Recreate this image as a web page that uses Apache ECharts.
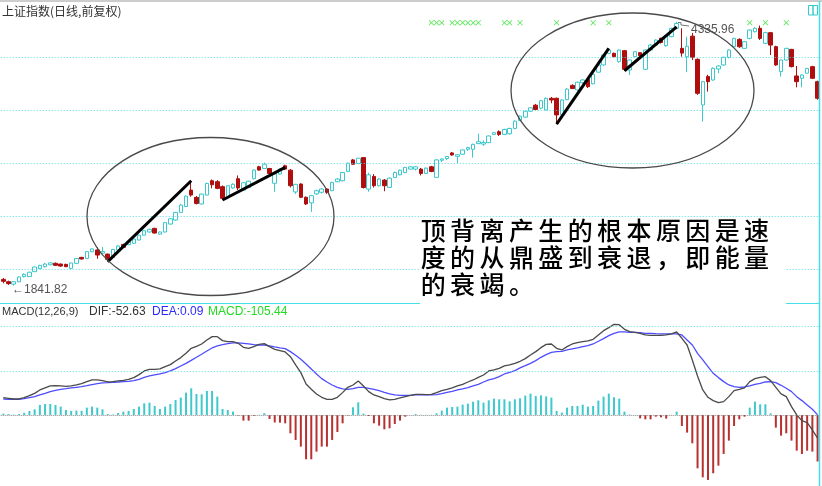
<!DOCTYPE html>
<html><head><meta charset="utf-8">
<script src="https://cdn.jsdelivr.net/npm/echarts@6/dist/echarts.min.js"></script>
<style>html,body{margin:0;padding:0;background:#fff}#c{width:822px;height:486px}</style>
</head><body><div id="c"></div>
<script>
// ---- data (Shanghai Composite, daily) ----
const opens = [1902,1880,1858,1880,1928,1928,1975,2003,2022,2040,
2054,2047,2044,2006,2054,2110,2100,2163,2180,2150,
2141,2110,2180,2232,2230,2243,2274,2320,2350,2384,
2330,2350,2425,2463,2535,2590,2746,2677,2615,2699,
2834,2825,2778,2683,2766,2853,2746,2770,2853,2966,
2950,2950,2810,2897,2975,2934,2728,2803,2678,2625,
2710,2725,2756,2740,2825,2834,2922,3031,2997,3053,
2755,2875,2787,2840,2771,2865,2890,2912,2944,2944,
2944,2903,2966,2866,3028,3044,3097,3065,3085,3131,
3131,3185,3180,3194,3272,3297,3272,3278,3328,3404,
3435,3491,3548,3520,3503,3613,3613,3456,3600,3735,
3692,3760,3792,3750,3860,3928,4038,4038,3959,4063,
3880,4006,4044,3887,4069,4116,4180,4110,4195,4274,
4085,4006,4200,3981,3550,3818,3786,3890,3928,4000,
4100,4170,4085,4179,4242,4274,4132,4233,4101,3865,
3975,4075,3824,3802,3850,3912,3770];
const closes = [1884,1862,1880,1925,1950,1970,2019,2035,2047,2058,
2035,2028,2022,2057,2100,2095,2164,2190,2132,2165,
2092,2185,2218,2205,2262,2283,2320,2362,2375,2340,
2350,2438,2475,2535,2604,2689,2699,2620,2708,2809,
2796,2762,2668,2787,2801,2766,2815,2830,2935,2935,
2991,2903,2900,2944,2944,2787,2800,2678,2615,2693,
2740,2756,2725,2818,2850,2912,3000,2990,3047,2770,
2890,2787,2850,2787,2859,2912,2934,2960,2965,2966,
2903,2953,2922,3031,3040,3063,3078,3080,3125,3147,
3178,3203,3195,3257,3288,3272,3319,3328,3397,3444,
3491,3523,3507,3590,3613,3597,3456,3597,3700,3705,
3765,3786,3723,3840,3928,4022,4069,4006,4069,3887,
3975,4053,4016,4069,4116,4163,4140,4201,4274,4320,
4040,4105,4000,3660,3770,3770,3896,3918,4000,4069,
4179,4100,4148,4258,4274,4179,4233,4116,3928,3975,
4085,3912,3770,3833,3896,3802,3613];
const lows = [1865,1850,1841.82,1875,1920,1925,1972,2000,2015,2035,
2030,2020,2018,2003,2050,2090,2098,2160,2097,2132,
2070,2105,2175,2200,2225,2240,2270,2316,2345,2335,
2325,2345,2420,2455,2530,2585,2683,2610,2610,2695,
2762,2755,2652,2660,2760,2746,2740,2765,2848,2930,
2945,2895,2730,2890,2935,2771,2710,2670,2605,2540,
2700,2715,2710,2735,2820,2830,2915,2985,2990,2760,
2730,2770,2780,2735,2765,2860,2885,2905,2940,2930,
2885,2898,2915,2860,3010,3030,3070,3000,3080,3115,
3053,3180,3163,3190,3265,3257,3265,3270,3320,3400,
3430,3485,3500,3510,3500,3566,3369,3440,3595,3700,
3685,3750,3710,3745,3855,3920,4030,4000,3950,3871,
3833,4000,4010,3880,4060,4110,4130,4100,4190,4265,
4006,3860,3975,3645,3393,3676,3780,3850,3920,3990,
4090,4090,4080,4170,4235,4164,4125,4022,3920,3818,
3970,3905,3717,3717,3845,3795,3600];
const highs = [1915,1890,1885,1930,1960,1975,2022,2040,2058,2063,
2062,2052,2050,2060,2105,2115,2168,2195,2205,2210,
2145,2190,2225,2240,2268,2290,2325,2366,2380,2390,
2355,2445,2480,2540,2615,2695,2834,2690,2712,2815,
2846,2840,2790,2790,2810,2884,2820,2835,2940,2975,
3005,2955,2912,2950,2985,2944,2805,2810,2685,2700,
2750,2765,2762,2825,2860,2915,3005,3040,3050,3055,
2910,2897,2860,2850,2865,2920,2940,2965,2972,2972,
2955,2960,2975,3040,3045,3068,3105,3085,3130,3155,
3185,3278,3215,3262,3295,3310,3325,3335,3405,3450,
3495,3528,3560,3597,3620,3625,3620,3605,3710,3745,
3770,3795,3800,3850,3935,4030,4085,4045,4075,4070,
3980,4060,4050,4075,4125,4170,4185,4210,4280,4335.96,
4274,4195,4230,3990,3775,3835,3905,3925,4005,4075,
4185,4180,4155,4262,4285,4300,4240,4240,4110,3980,
4090,4080,3918,3840,3900,3920,3780];
const difValues = [39.3,37.8,36.2,36.2,39.3,43.8,49,56.6,61.2,65.7,
66.4,65.7,64.9,65.7,68,71,75.5,79.3,79.3,77.8,
74.7,75.5,77,78.5,80.8,84.6,91.4,99.7,103.4,103.4,
104.2,109.5,114,122.3,129.9,139.7,151,155.5,160.8,169.9,
177.4,177.4,168.4,166.1,166.1,162.3,153.3,151,154.8,160,
161.6,154.8,148.7,145.7,142.7,132.1,113.3,95.9,70.2,58.1,
47.6,40,35.5,35.5,40,50.6,62.7,67.9,77,65.7,
52.9,45.3,41.5,37,34,35.5,38.5,41.5,44.5,46.8,
46.8,46,46.8,50.6,55.1,58.1,61.2,65.7,69.5,74.7,
79.3,85.3,90.6,99.7,101.9,105.7,111,113.3,117,121.6,
127.6,135.9,143.5,152.5,160,160.8,151,147.2,154.8,160.8,
163.8,166.1,167.6,171.4,181.2,191,197.8,205.4,204.6,194,
188.8,187.2,185,181.2,180.4,180.4,180.4,181.2,183.5,188,
173.7,158.5,124.6,88.3,56.6,40,32.5,27.9,30.2,41.5,
55.1,58.1,61.2,75.5,82.3,85.3,86.8,77.8,62.7,47.6,
41.5,18.9,0,-12.8,-17.4,-34,-52.63];
const deaValues = [36.2,35.5,35.5,35.5,37,39.3,41.5,45.3,49,52.9,
55.9,58.1,59.6,61.2,62.7,64.2,66.4,68.7,71,72.5,
73.2,74,74.7,75.5,76.3,77.8,80.8,85.3,88.3,90.6,
92.9,95.9,99.7,104.9,111,117,123.8,130.6,137.4,145,
151.8,156.3,159.3,161.6,163.1,163.1,162.3,160.8,159.3,158.5,
158.5,156.3,154,151.8,150.2,143.5,135.1,126.1,115.5,104.2,
92.9,82.3,74.7,67.9,62.7,58.9,58.1,59.6,62.7,62.7,
60.4,58.1,55.1,51.3,47.6,45.3,44.5,44.5,44.5,45.3,
45.3,45.3,45.3,46,48.3,51.3,53.6,56.6,58.9,61.9,
65.7,69.5,74.7,79.3,82.3,86.8,92.9,96.6,100.4,106.5,
111.7,117,123.1,130.6,136.7,141.9,143.5,144.2,147.2,149.5,
151.8,154.8,157,160.8,166.9,172.9,179.7,185,188,188,
187.2,187.2,186.5,185,185,184.2,183.5,183.5,183.5,183.5,
181.2,169.9,158.5,139.7,124.6,109.5,94.4,84.6,75.5,67.9,
64.2,62.7,63.4,65.7,69.5,71.7,74.7,75.5,73.2,67.2,
60.4,52.9,41.5,32.5,22.7,12.8,0.09];
const macdValues = [3,2,1,2,5,9.1,12.8,22.7,24.9,24.9,
22.7,18.9,11.3,9.1,9.8,9.1,16.6,18.9,16.6,12.8,
2,1,4.5,7.6,9.1,13.6,18.9,26.4,27.9,20.4,
13.6,18.9,24.9,34,39.3,50.6,60.4,47.6,46.8,54.4,
54.4,41.5,13.6,11.3,7.6,-1,-12.8,-12.8,-2,0.5,
4,-9,-17,-17.4,-18.9,-41.5,-56.6,-71.7,-100.4,-100.4,
-83,-71.7,-71.7,-56.6,-38.5,-18.9,-1,17.4,28.7,3,
-2.3,-18.9,-24.2,-32.5,-30.2,-20.4,-12.8,-3.8,0,2.3,
0.5,0.5,0.5,3.8,9.8,16.6,18.1,18.9,23.4,25.7,
30.2,33.2,27.9,33.2,37,35.5,35.5,31,35.5,37.8,
43.8,48.3,43,44.5,42,39.3,9.1,5.3,16.6,20.4,
20.4,23.4,18.9,20.4,32.5,41.5,48.3,40,37,7.6,
1,0.3,-7.6,-9.8,-9.8,-3.8,-5.3,-8.3,0.3,7.6,
-24.9,-40,-64.2,-120.8,-141.2,-147.2,-132.1,-114.8,-88.3,-58.1,
-24.9,-9.8,-3.8,16.6,30.2,24.2,24.2,3.8,-28.7,-46.8,
-41.5,-58.1,-80.8,-88.3,-80.8,-83,-105.44];
const categories = opens.map((_, i) => 'D' + (i + 1));
const signalDays = [82,83,84,86,87,88,89,90,91,96,97,99,106,113,116,143,146,150];
const signalRowPrice = 4326;
const priceGridLevels = [2000, 2500, 3000, 3500, 4000];
const macdGridLevels = [100, 200];
// trend lines: [startDay, startPrice, endDay, endPrice]
const trendLines = [[20,2070,36,2834],[42,2652,54,2960],[106,3369,116,4084],[119,3873,129,4288]];
const title = '上证指数(日线,前复权)';
const lowLabel = '←1841.82';
const highLabel = '4335.96';
const noteLines = ['顶背离产生的根本原因是速', '度的从鼎盛到衰退，即能量', '的衰竭。'];

// ---- chart ----
const chart = echarts.init(document.getElementById('c'), null, {renderer: 'canvas'});
const CYAN = '#3cc8cc', RED = '#b00e0e', GRIDC = '#55dde4';
const candleData = opens.map((o, i) => [o, closes[i], lows[i], highs[i]]);

const graphics = [
  {type: 'line', shape: {x1: 0, y1: 1, x2: 822, y2: 1}, style: {stroke: '#9a9a9a', lineWidth: 1}, z: 60},
  {type: 'line', shape: {x1: 819.5, y1: 1, x2: 819.5, y2: 486}, style: {stroke: '#44e0e6', lineWidth: 1.5}, z: 60},
  {type: 'line', shape: {x1: 0, y1: 303.5, x2: 820, y2: 303.5}, style: {stroke: '#44e0e6', lineWidth: 1}, z: 60},
  {type: 'rect', shape: {x: 808.5, y: 5.5, width: 4.5, height: 9.5}, style: {fill: null, stroke: '#33cccc', lineWidth: 1}, z: 60},
  {type: 'rect', shape: {x: 813, y: 5.5, width: 4.5, height: 9.5}, style: {fill: null, stroke: '#33cccc', lineWidth: 1}, z: 60},
  {type: 'text', x: 2, y: 11.5, style: {text: title, font: '12px "Noto Sans CJK SC"', fill: '#333', verticalAlign: 'middle', textVerticalAlign: 'middle'}, z: 60},
  {type: 'ellipse', shape: {cx: 210.5, cy: 216.5, rx: 123.5, ry: 79}, style: {fill: null, stroke: '#4a4a4a', lineWidth: 1.3}, z: 50},
  {type: 'ellipse', shape: {cx: 632.5, cy: 90.5, rx: 121.5, ry: 77.5}, style: {fill: null, stroke: '#4a4a4a', lineWidth: 1.3}, z: 50},
  {type: 'text', x: 12, y: 289.5, style: {text: lowLabel, font: '12px "Liberation Sans", Arial', fill: '#555', verticalAlign: 'middle', textVerticalAlign: 'middle'}, z: 60},
  {type: 'polyline', shape: {points: [[678, 22.5], [681, 22.5], [681, 25], [689, 26]]}, style: {fill: null, stroke: '#777', lineWidth: 1}, z: 60},
  {type: 'text', x: 691, y: 29.5, style: {text: highLabel, font: '12px "Liberation Sans", Arial', fill: '#555', verticalAlign: 'middle', textVerticalAlign: 'middle'}, z: 60},
  {type: 'rect', shape: {x: 420, y: 217, width: 366, height: 88.5}, style: {fill: '#fff'}, z: 100},
  {type: 'text', x: 2, y: 312, style: {text: 'MACD(12,26,9)', font: '11px "Liberation Sans", Arial', fill: '#333', verticalAlign: 'middle', textVerticalAlign: 'middle'}, z: 60},
  {type: 'text', x: 89, y: 312, style: {text: 'DIF:' + difValues[difValues.length - 1].toFixed(2), font: '12px "Liberation Sans", Arial', fill: '#333', verticalAlign: 'middle', textVerticalAlign: 'middle'}, z: 60},
  {type: 'text', x: 152, y: 312, style: {text: 'DEA:' + deaValues[deaValues.length - 1].toFixed(2), font: '12px "Liberation Sans", Arial', fill: '#2a2aff', verticalAlign: 'middle', textVerticalAlign: 'middle'}, z: 60},
  {type: 'text', x: 208, y: 312, style: {text: 'MACD:' + macdValues[macdValues.length - 1].toFixed(2), font: '12px "Liberation Sans", Arial', fill: '#22dd22', verticalAlign: 'middle', textVerticalAlign: 'middle'}, z: 60}
];
noteLines.forEach((line, li) => {
  Array.from(line).forEach((ch, k) => {
    graphics.push({type: 'text', x: 433.2 + 29.4 * k, y: 230.5 + 27.2 * li,
      style: {text: ch, font: '500 25px "Noto Sans CJK SC"', fill: '#000', align: 'center', textAlign: 'center', verticalAlign: 'middle', textVerticalAlign: 'middle'}, z: 101});
  });
});

const option = {
  animation: false,
  backgroundColor: '#fff',
  grid: [
    {left: 0.7, width: 819.5, top: 4.4, height: 285.8},
    {left: 0.7, width: 819.5, top: 304.6, height: 181.0}
  ],
  xAxis: [
    {type: 'category', data: categories, gridIndex: 0, boundaryGap: true, show: false},
    {type: 'category', data: categories, gridIndex: 1, boundaryGap: true, show: false}
  ],
  yAxis: [
    {type: 'value', gridIndex: 0, min: 1800, max: 4500, show: false, splitLine: {show: false}},
    {type: 'value', gridIndex: 1, min: -160, max: 250, show: false, splitLine: {show: false}}
  ],
  series: [
    {
      name: 'signals', type: 'scatter', xAxisIndex: 0, yAxisIndex: 0, z: 1,
      data: signalDays.map(d => [categories[d], signalRowPrice]),
      symbol: 'path://M0,1L1,0L5,4L9,0L10,1L6,5L10,9L9,10L5,6L1,10L0,9L4,5Z',
      symbolSize: 5.5, itemStyle: {color: '#22e022'}, silent: true,
      markLine: {
        silent: true, symbol: 'none', label: {show: false},
        lineStyle: {color: GRIDC, type: [1, 2], width: 1},
        data: priceGridLevels.map(v => ({yAxis: v}))
      }
    },
    {
      name: 'K', type: 'candlestick', xAxisIndex: 0, yAxisIndex: 0, z: 2,
      data: candleData, barWidth: 4,
      itemStyle: {color: '#ffffff', color0: RED, borderColor: CYAN, borderColor0: RED, borderWidth: 1},
      markLine: {
        silent: true, symbol: 'none', label: {show: false},
        lineStyle: {color: '#000', type: 'solid', width: 3},
        data: trendLines.map(t => [{coord: [categories[t[0]], t[1]]}, {coord: [categories[t[2]], t[3]]}])
      }
    },
    {
      name: 'MACD', type: 'bar', xAxisIndex: 1, yAxisIndex: 1, barWidth: 2, z: 2,
      data: macdValues,
      itemStyle: {color: p => p.value >= 0 ? '#3fc9cc' : '#b83030'}
    },
    {
      name: 'DEA', type: 'line', xAxisIndex: 1, yAxisIndex: 1, data: deaValues, showSymbol: false, z: 3,
      lineStyle: {color: '#4d4dff', width: 1.3}
    },
    {
      name: 'DIF', type: 'line', xAxisIndex: 1, yAxisIndex: 1, data: difValues, showSymbol: false, z: 4,
      lineStyle: {color: '#4a4a4a', width: 1.3},
      markLine: {
        silent: true, symbol: 'none', label: {show: false},
        data: macdGridLevels.map(v => ({yAxis: v, lineStyle: {color: GRIDC, type: [1, 2], width: 1}}))
          .concat([{yAxis: 0, lineStyle: {color: '#8a8a8a', type: [1, 1], width: 1}}])
      }
    }
  ],
  graphic: {elements: graphics}
};
chart.setOption(option);
</script>
</body></html>
